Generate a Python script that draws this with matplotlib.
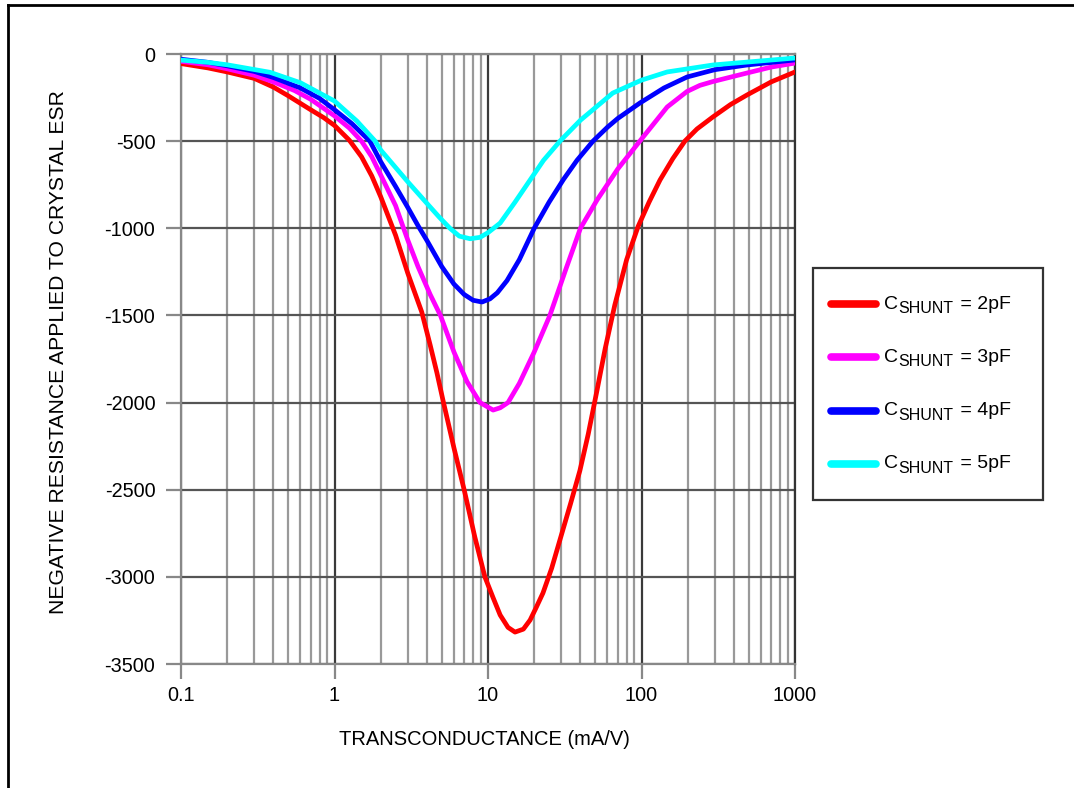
import matplotlib
matplotlib.use('Agg')
import matplotlib.pyplot as plt
from matplotlib.lines import Line2D
from matplotlib.patches import Rectangle
from matplotlib.text import Annotation
from matplotlib.ticker import LogLocator, FixedLocator, NullFormatter

plt.rcParams['font.family'] = ['Liberation Sans', 'DejaVu Sans']
plt.rcParams['axes.unicode_minus'] = False

# transconductance (mA/V) and negative resistance for each shunt capacitance
x_2pf = [0.1, 0.15, 0.2, 0.3, 0.4, 0.5, 0.7, 0.85, 1.0, 1.25, 1.5, 1.75, 2.0, 2.5, 3.0,
         3.7, 4.2, 4.65, 5.1, 6.0, 7.0, 8.2, 9.55, 10.8, 12, 13.5, 15, 17, 18.8, 20.5,
         22.8, 26, 29.4, 34.5, 39.7, 45, 51.3, 58, 67, 80, 95, 112, 132, 160, 192, 230,
         292, 380, 487, 700, 1000]
y_2pf = [-55, -80, -103, -140, -190, -240, -320, -365, -410, -495, -590, -700, -819,
         -1040, -1257, -1480, -1670, -1830, -1990, -2260, -2502, -2770, -3001, -3120,
         -3219, -3290, -3317, -3300, -3248, -3180, -3093, -2950, -2789, -2580, -2390,
         -2180, -1930, -1690, -1440, -1180, -990, -850, -723, -600, -499, -430, -361,
         -290, -235, -160, -103]

x_3pf = [0.1, 0.15, 0.2, 0.3, 0.4, 0.55, 0.7, 1.0, 1.25, 1.5, 1.75, 2.0, 2.5, 3.0, 3.5,
         4.2, 4.9, 6.0, 7.3, 8.87, 10.8, 12, 13.5, 16, 20, 25.3, 32, 40, 51.3, 70, 97.7,
         147, 198, 240, 292, 487, 700, 1000]
y_3pf = [-42, -62, -85, -122, -160, -210, -260, -355, -425, -500, -590, -694, -870,
         -1067, -1220, -1380, -1500, -1710, -1880, -2000, -2043, -2030, -2000, -1890,
         -1710, -1500, -1240, -1000, -838, -660, -499, -304, -215, -180, -158, -109,
         -75, -52]

x_4pf = [0.1, 0.15, 0.2, 0.3, 0.4, 0.6, 0.8, 1.0, 1.3, 1.7, 2.0, 2.5, 3.0, 3.5, 4.0,
         5.0, 6.0, 7.0, 8.0, 9.14, 10.3, 11.5, 13.3, 16, 20, 25, 31, 38, 48.3, 60, 70,
         97.7, 140, 198, 300, 487, 1000]
y_4pf = [-30, -48, -68, -100, -135, -195, -255, -320, -400, -500, -618, -760, -880, -985,
         -1070, -1220, -1320, -1380, -1413, -1423, -1405, -1370, -1300, -1180, -1000,
         -850, -720, -610, -500, -420, -370, -281, -195, -132, -90, -63, -34]

x_5pf = [0.1, 0.15, 0.2, 0.38, 0.6, 1.0, 1.4, 1.84, 2.0, 3.0, 4.0, 4.8, 5.65, 6.5, 7.64,
         8.87, 10, 12, 15, 18.8, 23, 29.5, 40, 65, 100, 147, 292, 1000]
y_5pf = [-35, -48, -62, -105, -165, -270, -385, -500, -551, -733, -857, -935, -1000,
         -1045, -1060, -1052, -1025, -970, -850, -723, -610, -499, -380, -224, -150,
         -103, -63, -23]

capacitancias = ['2pF', '3pF', '4pF', '5pF']
cores = ['#ff0000', '#ff00ff', '#0000ff', '#00ffff']
curvas = [(x_2pf, y_2pf), (x_3pf, y_3pf), (x_4pf, y_4pf), (x_5pf, y_5pf)]

W, H = 1074, 788
fig = plt.figure(figsize=(W / 100, H / 100), dpi=100)
ax = fig.add_axes([181 / W, 1 - 664 / H, 614 / W, 610 / H])

for (xs, ys), cor in zip(curvas, cores):
    ax.plot(xs, ys, color=cor, lw=3.4, solid_capstyle='round',
            solid_joinstyle='round', zorder=3)

ax.set_xscale('log')
ax.set_xlim(0.1, 1000)
ax.set_ylim(-3500, 0)
ax.set_yticks(range(-3500, 1, 500))
ax.xaxis.set_major_locator(FixedLocator([0.1, 1, 10, 100, 1000]))
ax.set_xticklabels(['0.1', '1', '10', '100', '1000'])
ax.xaxis.set_minor_locator(LogLocator(base=10, subs=range(2, 10)))
ax.xaxis.set_minor_formatter(NullFormatter())

ax.grid(True, which='major', axis='x', color='#3a3a3a', lw=1.6, zorder=1)
ax.grid(True, which='minor', axis='x', color='#999999', lw=1.6, zorder=1)
ax.grid(True, which='major', axis='y', color='#555555', lw=1.6, zorder=1)

for lado in ['left', 'bottom', 'top']:
    ax.spines[lado].set_color('#888888')
    ax.spines[lado].set_linewidth(1.6)
ax.spines['right'].set_color('#333333')
ax.spines['right'].set_linewidth(1.6)

ax.tick_params(axis='both', which='major', labelsize=14.3, color='#888888',
               width=1.6, length=10.5)
ax.tick_params(axis='x', which='major', pad=5)
ax.tick_params(axis='y', which='major', pad=8)
ax.tick_params(axis='x', which='minor', length=0)

ax.set_xlabel('TRANSCONDUCTANCE (mA/V)', fontsize=14.5)
ax.set_ylabel('NEGATIVE RESISTANCE APPLIED TO CRYSTAL ESR', fontsize=15.2)
ax.xaxis.set_label_coords(0.495, -0.108)
ax.yaxis.set_label_coords(-0.184, 0.5115)

# legenda desenhada a mao para imitar o subscrito largo
fig.add_artist(Rectangle((813 / W, 1 - 500 / H), 230 / W, 232 / H,
                         transform=fig.transFigure, facecolor='white',
                         edgecolor='#333333', lw=1.6, zorder=5))
for i, (cap, cor) in enumerate(zip(capacitancias, cores)):
    yc = 1 - (304 + i * 53.3) / H
    fig.add_artist(Line2D([831 / W, 876 / W], [yc, yc], color=cor, lw=5.5,
                          solid_capstyle='round', transform=fig.transFigure, zorder=6))
    t1 = fig.text(884 / W, yc, 'C', fontsize=14, va='center', zorder=6)
    t2 = Annotation('SHUNT', xy=(1, 0), xycoords=t1, xytext=(0.3, -2.5),
                    textcoords='offset points', fontsize=11.5, va='bottom',
                    annotation_clip=False, zorder=6)
    fig.add_artist(t2)
    t3 = Annotation(' = ' + cap, xy=(1, 0), xycoords=(t2, t1), xytext=(1, 0),
                    textcoords='offset points', fontsize=14, va='bottom',
                    annotation_clip=False, zorder=6)
    fig.add_artist(t3)

# moldura da figura (so esquerda e topo aparecem)
fig.add_artist(Line2D([8 / W, 8 / W], [0, 1 - 5 / H], color='black', lw=2,
                      transform=fig.transFigure))
fig.add_artist(Line2D([8 / W, 1], [1 - 5 / H, 1 - 5 / H], color='black', lw=2,
                      transform=fig.transFigure))

fig.savefig('out.png', dpi=100)
